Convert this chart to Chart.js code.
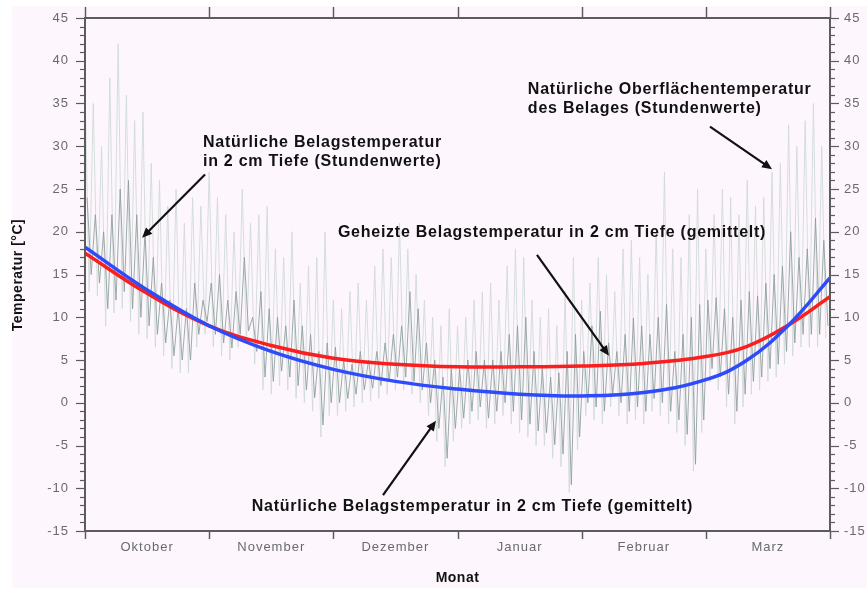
<!DOCTYPE html>
<html>
<head>
<meta charset="utf-8">
<script src="https://cdn.jsdelivr.net/npm/chart.js@4"></script>
<style>
  html, body { margin: 0; padding: 0; background: #fff; }
  #wrap { width: 867px; height: 590px; }
</style>
</head>
<body>
<div id="wrap"><canvas id="chart" width="867" height="590"></canvas></div>
<script>
// Monate (gleich breit, 30 Tage je Monat auf der Achse)
const months = ['Oktober', 'November', 'Dezember', 'Januar', 'Februar', 'Marz'];
const monthEdges = [0, 30, 60, 90, 120, 150, 180];
const yTicks = [-15, -10, -5, 0, 5, 10, 15, 20, 25, 30, 35, 40, 45];
const stepDays = 2; // ein Wert-Paar (max/min) alle 2 Tage

// Belag in 2 cm Tiefe, Stundenwerte -> Tagesmaxima / Tagesminima
const depthMax = [
  24, 22, 20, 22, 25, 26, 22, 20, 17, 14, 12, 11, 11, 14, 12,
  14, 15, 12, 13, 17, 10, 13, 11, 10, 9, 12, 9, 8, 6, 7,
  6.5, 5, 4.5, 6, 5, 6, 7, 8, 9, 13, 11, 7, 5, 3, 4,
  4, 5, 6, 5, 5, 6, 8, 9, 10, 6, 4, 3, 3.5, 6, 8,
  6, 9, 10.7, 7, 6, 8, 9.9, 9, 8, 10, 11.5, 6, 8, 10, 11.5,
  12, 12.3, 11, 10, 12, 13, 12.5, 14, 15, 16, 20, 17, 18, 21.6, 19
];
const depthMin = [
  15, 14, 11, 12, 13, 11, 10, 9, 8, 7, 5.5, 5, 5, 8, 9.5,
  8, 7, 6.4, 8, 8.4, 6, 3, 2.5, 3.7, 3, 2, 1.5, 0.6, -2.6, 0,
  0, 0.5, 1, 1.5, 1.7, 2, 2.5, 3, 3, 2.5, 1.5, 0, -3, -6.5, -3,
  -1.8, -1, -0.5, -1.8, -1, 0, -1, -2, -2.5, -3.3, -3.5, -4.9, -6, -9.6, -4,
  0, -0.5, -1, 1, 0, -1, -0.5, -1, 0.5, 0, -1, -2, -3.7, -7.2, -2,
  4, 3, 1, -1, 1, 2.5, 3, 4, 4.5, 6, 7, 8, 8, 8, 9
];

// Oberflaeche, Stundenwerte -> Tagesmaxima / Tagesminima
const surfMax = [
  37, 35, 30, 38, 42, 36, 33, 34, 28, 26, 23, 25, 21, 24, 23,
  27, 24, 22, 20, 25, 21, 22, 23, 18, 17, 20, 14, 16, 17, 20,
  12, 11, 13, 14, 12, 16, 18, 17, 21, 18, 15, 12, 10, 9, 11,
  9, 10, 12, 13, 14, 12, 16, 18, 17, 12, 10, 11, 9, 13, 17,
  12, 14, 17, 15, 13, 18, 19, 17, 15, 20, 27, 18, 17, 22, 25,
  18, 22, 25, 24, 22, 26, 23, 24, 27, 28, 32.5, 30, 33, 35, 30
];
const surfMin = [
  13, 12.5, 9, 10.5, 11, 9.5, 8, 7.5, 6.5, 5.5, 4, 3.5, 3.5, 6.5, 8,
  6.5, 5.5, 5, 6.5, 7, 4.5, 1.5, 1, 2, 1.5, 0.5, 0, -1, -4, -1.5,
  -1.5, -1, -0.5, 0, 0.2, 0.5, 1, 1.5, 1.5, 1, 0, -1.5, -4.5, -7.5, -4.5,
  -3, -2.5, -2, -3, -2.5, -1.5, -2.5, -3.5, -4, -5, -5, -6.5, -7.5, -10.5, -5.5,
  -1.5, -2, -2.5, -0.5, -1.5, -2.5, -2, -2.5, -1, -1.5, -2.5, -3.5, -5, -8, -3.5,
  2.5, 1.5, -0.5, -2.5, -0.5, 1, 1.5, 2.5, 3, 4.5, 5.5, 6.5, 6.5, 6.5, 7.5
];

// gemittelte Verlaeufe
const meanDays    = [0, 15, 30, 45, 60, 75, 90, 105, 120, 135, 150, 160, 170, 180];
const heatedMean  = [17.5, 12.8, 9.0, 6.7, 5.2, 4.5, 4.2, 4.2, 4.3, 4.6, 5.4, 6.6, 9.1, 12.4];
const naturalMean = [18.2, 13.2, 9.0, 6.0, 3.9, 2.5, 1.6, 1.0, 0.8, 1.2, 2.7, 5.0, 9.1, 14.6];

// Beschriftungen: Text (Tag, Temperatur) und Pfeil von -> nach
const notes = [
  { lines: ['Natürliche Belagstemperatur', 'in 2 cm Tiefe (Stundenwerte)'], at: [28.5, 30.4], arrow: [29, 26.7, 13.8, 19.3] },
  { lines: ['Natürliche Oberflächentemperatur', 'des Belages (Stundenwerte)'], at: [107, 36.6], arrow: [151, 32.3, 166, 27.3] },
  { lines: ['Geheizte Belagstemperatur in 2 cm Tiefe (gemittelt)'], at: [61.1, 19.9], arrow: [109.2, 17.3, 126.6, 5.5] },
  { lines: ['Natürliche Belagstemperatur in 2 cm Tiefe (gemittelt)'], at: [40.3, -12.2], arrow: [72, -10.8, 84.8, -2.1] },
];

function zigzag(hi, lo, shift) {
  const pts = [];
  hi.forEach((v, i) => {
    pts.push({x: i * stepDays + shift, y: v});
    pts.push({x: i * stepDays + shift + stepDays / 2, y: lo[i]});
  });
  return pts;
}
const meanPts = arr => meanDays.map((d, i) => ({x: d, y: arr[i]}));

const decor = {
  id: 'decor',
  beforeDraw(chart) {
    const ctx = chart.ctx;
    ctx.save();
    ctx.fillStyle = '#ffffff';
    ctx.fillRect(0, 0, chart.width, chart.height);
    ctx.fillStyle = '#fdf7fd';
    ctx.fillRect(12, 6, chart.width - 12, chart.height - 8);
    ctx.restore();
  },
  afterDraw(chart) {
    const {ctx, chartArea: a, scales: {x, y}} = chart;
    const line = (x1, y1, x2, y2) => { ctx.beginPath(); ctx.moveTo(x1, y1); ctx.lineTo(x2, y2); ctx.stroke(); };
    ctx.save();
    ctx.strokeStyle = '#5c5c5c';
    ctx.lineWidth = 2;
    ctx.strokeRect(a.left, a.top, a.right - a.left, a.bottom - a.top);

    // y ticks, left and right (minor every 1 degree)
    ctx.lineWidth = 1.2;
    for (let v = yTicks[0]; v <= yTicks[yTicks.length - 1]; v++) {
      const py = Math.round(y.getPixelForValue(v)) + 0.5;
      const len = v % 5 === 0 ? 9 : 5;
      line(a.left - len, py, a.left, py);
      line(a.right, py, a.right + len, py);
    }
    // month ticks bottom and top
    ctx.lineWidth = 1.5;
    monthEdges.forEach(d => {
      const px = Math.round(x.getPixelForValue(d)) + 0.5;
      line(px, a.bottom, px, a.bottom + 8);
      line(px, a.top - 11, px, a.top);
    });

    // tick labels
    ctx.fillStyle = '#6a6a6a';
    ctx.font = '13px "Liberation Sans", Arial, sans-serif';
    ctx.letterSpacing = '1px';
    ctx.textBaseline = 'middle';
    yTicks.forEach(v => {
      const py = y.getPixelForValue(v);
      ctx.textAlign = 'right';
      ctx.fillText(String(v), a.left - 16, py);
      ctx.textAlign = 'left';
      ctx.fillText(String(v), a.right + 14, py);
    });
    ctx.textAlign = 'center';
    months.forEach((m, i) => {
      const px = x.getPixelForValue((monthEdges[i] + monthEdges[i + 1]) / 2);
      ctx.fillText(m, px, a.bottom + 16);
    });

    // axis titles
    ctx.fillStyle = '#111';
    ctx.font = 'bold 14px "Liberation Sans", Arial, sans-serif';
    ctx.letterSpacing = '0.5px';
    ctx.fillText('Monat', (a.left + a.right) / 2, a.bottom + 47);
    ctx.save();
    ctx.translate(18, 275);
    ctx.rotate(-Math.PI / 2);
    ctx.fillText('Temperatur [°C]', 0, 0);
    ctx.restore();

    // annotations
    ctx.font = 'bold 16px "Liberation Sans", Arial, sans-serif';
    ctx.letterSpacing = '0.75px';
    ctx.textAlign = 'left';
    ctx.fillStyle = '#111';
    ctx.strokeStyle = '#111';
    notes.forEach(n => {
      const tx = x.getPixelForValue(n.at[0]);
      const ty = y.getPixelForValue(n.at[1]);
      n.lines.forEach((s, k) => ctx.fillText(s, tx, ty + k * 19));
      const [d1, t1, d2, t2] = n.arrow;
      const x1 = x.getPixelForValue(d1), y1 = y.getPixelForValue(t1);
      const x2 = x.getPixelForValue(d2), y2 = y.getPixelForValue(t2);
      const ang = Math.atan2(y2 - y1, x2 - x1);
      ctx.lineWidth = 2.2;
      line(x1, y1, x2 - 6 * Math.cos(ang), y2 - 6 * Math.sin(ang));
      ctx.beginPath();
      ctx.moveTo(x2, y2);
      ctx.lineTo(x2 - 10 * Math.cos(ang) + 4.5 * Math.sin(ang), y2 - 10 * Math.sin(ang) - 4.5 * Math.cos(ang));
      ctx.lineTo(x2 - 10 * Math.cos(ang) - 4.5 * Math.sin(ang), y2 - 10 * Math.sin(ang) + 4.5 * Math.cos(ang));
      ctx.closePath();
      ctx.fill();
    });
    ctx.restore();
  }
};

new Chart(document.getElementById('chart'), {
  type: 'line',
  data: {
    datasets: [
      {
        label: 'Natürliche Belagstemperatur in 2 cm Tiefe (gemittelt)',
        data: meanPts(naturalMean),
        borderColor: 'rgb(45, 75, 250)',
        borderWidth: 3.5,
        tension: 0.4,
        order: 0,
      },
      {
        label: 'Geheizte Belagstemperatur in 2 cm Tiefe (gemittelt)',
        data: meanPts(heatedMean),
        borderColor: 'rgb(250, 30, 30)',
        borderWidth: 3.5,
        tension: 0.4,
        order: 1,
      },
      {
        label: 'Natürliche Belagstemperatur in 2 cm Tiefe (Stundenwerte)',
        data: zigzag(depthMax, depthMin, 0.5),
        borderColor: 'rgba(140, 158, 154, 0.85)',
        borderWidth: 1,
        tension: 0,
        order: 2,
      },
      {
        label: 'Natürliche Oberflächentemperatur des Belages (Stundenwerte)',
        data: zigzag(surfMax, surfMin, 0),
        borderColor: 'rgba(208, 218, 216, 0.9)',
        borderWidth: 1,
        tension: 0,
        order: 3,
      },
    ],
  },
  options: {
    responsive: false,
    animation: false,
    layout: { padding: { left: 85, top: 18, right: 37, bottom: 59 } },
    elements: { point: { radius: 0 } },
    plugins: { legend: { display: false }, tooltip: { enabled: false } },
    scales: {
      x: { type: 'linear', min: 0, max: 180, display: false },
      y: { type: 'linear', min: -15, max: 45, display: false },
    },
  },
  plugins: [decor],
});
</script>
</body>
</html>
